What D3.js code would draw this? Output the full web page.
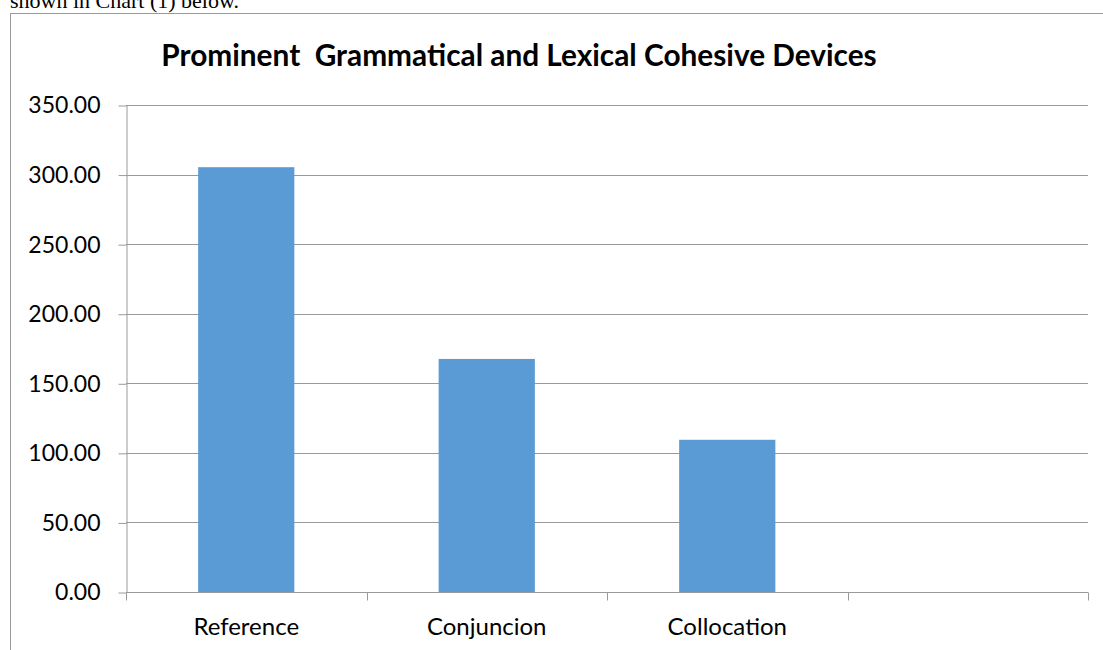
<!DOCTYPE html>
<html>
<head>
<meta charset="utf-8">
<script src="https://cdn.jsdelivr.net/npm/d3@7"></script>
<style>
  body { margin: 0; background: #fff; }
  svg { display: block; }
</style>
</head>
<body>
<svg width="1103" height="650"></svg>
<script>
const svg = d3.select("svg");

// chart data
const categories = ["Reference", "Conjuncion", "Collocation", ""];
const values = [305.3, 167.5, 109.4, null];
const yTicks = [0, 50, 100, 150, 200, 250, 300, 350];
const title = "Prominent  Grammatical and Lexical Cohesive Devices";

const font = "Lato, 'Open Sans', sans-serif";

// plot area
const plotLeft = 126, plotRight = 1088, plotTop = 105, plotBottom = 592;

// text above the chart box (cut off in the page)
svg.append("text")
    .attr("x", 10)
    .attr("y", 8)
    .attr("font-family", "'Liberation Serif', serif")
    .attr("font-size", 22)
    .text("shown in Chart (1) below.");

// chart border
svg.append("rect")
    .attr("x", 10.5)
    .attr("y", 13.5)
    .attr("width", 1120)
    .attr("height", 700)
    .attr("fill", "none")
    .attr("stroke", "#9a9a9a");

// title keeps its double space
svg.append("text")
    .attr("x", 519)
    .attr("y", 66)
    .attr("text-anchor", "middle")
    .attr("font-family", font)
    .attr("font-weight", "bold")
    .attr("font-size", 29.8)
    .style("white-space", "pre")
    .text(title);

const x = d3.scaleBand()
    .domain(d3.range(categories.length))
    .range([plotLeft, plotRight])
    .paddingInner(0)
    .paddingOuter(0);

const y = d3.scaleLinear()
    .domain([0, 350])
    .range([plotBottom, plotTop]);

// gridlines
svg.append("g")
    .selectAll("line")
    .data(yTicks.slice(1))
    .join("line")
    .attr("x1", plotLeft)
    .attr("x2", plotRight)
    .attr("y1", d => Math.round(y(d)) + 0.5)
    .attr("y2", d => Math.round(y(d)) + 0.5)
    .attr("stroke", "#9a9a9a")
    .attr("stroke-width", 1);

// bars, gap width 150%
const barW = x.bandwidth() / 2.5;
svg.append("g")
    .selectAll("rect")
    .data(values.map((v, i) => ({ v, i })).filter(d => d.v != null))
    .join("rect")
    .attr("x", d => x(d.i) + (x.bandwidth() - barW) / 2)
    .attr("y", d => y(d.v))
    .attr("width", barW)
    .attr("height", d => plotBottom - y(d.v))
    .attr("fill", "#5b9bd5");

// y axis
const yAxis = svg.append("g")
    .attr("transform", `translate(${plotLeft + 0.5},0.5)`)
    .call(d3.axisLeft(y).tickValues(yTicks).tickFormat(d3.format(".2f")).tickSize(8).tickSizeOuter(0));
yAxis.select(".domain").attr("stroke", "#9a9a9a");
yAxis.selectAll(".tick line").attr("stroke", "#9a9a9a");
yAxis.selectAll(".tick text")
    .attr("x", -26)
    .attr("font-family", font)
    .attr("font-size", 23)
    .attr("fill", "#000");

// x axis with ticks at category boundaries
const xg = svg.append("g").attr("transform", `translate(0,${plotBottom + 0.5})`);
xg.append("line")
    .attr("x1", plotLeft)
    .attr("x2", plotRight)
    .attr("stroke", "#9a9a9a");
xg.selectAll("line.tk")
    .data(d3.range(categories.length + 1))
    .join("line")
    .attr("class", "tk")
    .attr("x1", i => Math.round(plotLeft + i * x.step()) + 0.5)
    .attr("x2", i => Math.round(plotLeft + i * x.step()) + 0.5)
    .attr("y1", 0)
    .attr("y2", 8)
    .attr("stroke", "#9a9a9a");
xg.selectAll("text")
    .data(categories)
    .join("text")
    .attr("x", (d, i) => x(i) + x.bandwidth() / 2)
    .attr("y", 42)
    .attr("text-anchor", "middle")
    .attr("font-family", font)
    .attr("font-size", 24)
    .text(d => d);
</script>
</body>
</html>
